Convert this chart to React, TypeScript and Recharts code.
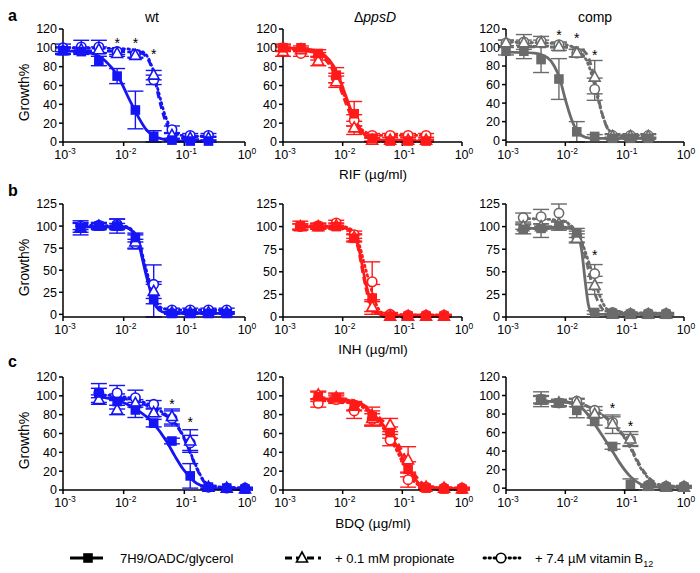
import React from "react";
import { ComposedChart, Line, Scatter, XAxis, YAxis, ErrorBar } from "recharts";

// doses (µg/ml), two-fold dilutions
const RIF_DOSES = [0.001, 0.002, 0.0039, 0.0078, 0.0156, 0.03125, 0.0625, 0.125, 0.25];
const INH_DOSES = [0.00195, 0.0039, 0.0078, 0.0156, 0.03125, 0.0625, 0.125, 0.25, 0.5];
const BDQ_DOSES = [0.0039, 0.0078, 0.0156, 0.03125, 0.0625, 0.125, 0.25, 0.5, 1];

const X_TICKS = [0.001, 0.01, 0.1, 1];
const X_TICK_EXP = ["-3", "-2", "-1", "0"];
const Y_TICKS_120 = [0, 20, 40, 60, 80, 100, 120];
const Y_TICKS_125 = [0, 25, 50, 75, 100, 125];

type Pt = [number, number];

// ---- a: RIF ----
const aWtSq = [97, 96, 86, 70, 34, 6, 2, 1, 1];
const aWtSqErr = [4, 3, 5, 8, 20, 6, 1, 1, 1];
const aWtTri = [97, 98, 98, 94, 92, 71, 7, 4, 4];
const aWtTriErr = [3, 3, 3, 3, 3, 5, 3, 2, 2];
const aWtCirc = [100, 101, 101, 96, 93, 66, 13, 7, 7];
const aWtCircErr = [4, 7, 7, 3, 3, 5, 4, 2, 2];
const aWtSqFit: Pt[] = [[0.001, 97], [0.003, 94], [0.005, 86], [0.008, 70], [0.01, 58], [0.012, 47], [0.0141, 38], [0.018, 25], [0.023, 14], [0.03, 7], [0.044, 3], [0.07, 1], [0.25, 1]];
const aWtTriFit: Pt[] = [[0.001, 97], [0.01, 96], [0.02, 94], [0.025, 88], [0.03, 76], [0.038, 47], [0.049, 22], [0.063, 10], [0.09, 4], [0.25, 2]];
const aWtCircFit: Pt[] = [[0.001, 100], [0.01, 99], [0.02, 96], [0.025, 90], [0.03, 78], [0.038, 52], [0.049, 27], [0.063, 13], [0.09, 7], [0.25, 6]];
const aWtStars: Pt[] = [[0.0078, 107], [0.0156, 107], [0.03125, 96]];

const aKoSq = [100, 100, 94, 71, 30, 4, 1, 1, 1];
const aKoSqErr = [4, 2, 4, 8, 13, 3, 1, 1, 1];
const aKoTri = [96, 98, 86, 64, 15, 2, 2, 2, 2];
const aKoTriErr = [5, 2, 5, 6, 7, 2, 1, 1, 1];
const aKoCirc = [100, 94, 91, 68, 23, 7, 7, 7, 7];
const aKoCircErr = [3, 3, 4, 5, 6, 2, 2, 2, 2];
const aKoSqFit: Pt[] = [[0.001, 100], [0.003, 98], [0.005, 92], [0.007, 81], [0.009, 66], [0.011, 51], [0.014, 33], [0.018, 18], [0.025, 6], [0.04, 2], [0.25, 1]];
const aKoTriFit: Pt[] = [[0.001, 98], [0.003, 96], [0.005, 88], [0.007, 75], [0.009, 58], [0.011, 43], [0.014, 27], [0.018, 13], [0.025, 5], [0.04, 2], [0.25, 2]];
const aKoCircFit: Pt[] = [[0.001, 99], [0.003, 96], [0.005, 90], [0.007, 78], [0.009, 62], [0.011, 47], [0.014, 31], [0.018, 18], [0.025, 10], [0.04, 7], [0.25, 7]];

const aCoSq = [96, 96, 87, 66, 9, 4, 2, 2, 2];
const aCoSqErr = [4, 8, 14, 22, 11, 2, 1, 1, 1];
const aCoTri = [105, 105, 105, 101, 94, 68, 4, 4, 4];
const aCoTriErr = [3, 3, 3, 4, 4, 18, 2, 2, 2];
const aCoCirc = [105, 106, 107, 103, 94, 55, 5, 5, 5];
const aCoCircErr = [3, 8, 5, 3, 4, 12, 2, 2, 2];
const aCoSqFit: Pt[] = [[0.001, 95], [0.003, 94], [0.005, 89], [0.0065, 80], [0.008, 67], [0.01, 44], [0.0128, 22], [0.0165, 8], [0.022, 3], [0.03, 2], [0.25, 2]];
const aCoTriFit: Pt[] = [[0.001, 101], [0.016, 100], [0.02, 97], [0.025, 88], [0.03, 70], [0.035, 50], [0.04, 33], [0.05, 14], [0.06, 7], [0.08, 4], [0.25, 4]];
const aCoCircFit: Pt[] = [[0.001, 106], [0.008, 104], [0.016, 98], [0.02, 92], [0.025, 80], [0.03, 63], [0.035, 46], [0.04, 32], [0.05, 15], [0.06, 8], [0.09, 5], [0.25, 5]];
const aCoStars: Pt[] = [[0.0078, 116], [0.0156, 112], [0.03125, 94]];

// ---- b: INH ----
const bWtSq = [98, 100, 100, 87, 17, 1, 1, 1, 1];
const bWtSqErr = [8, 4, 8, 5, 20, 1, 1, 1, 1];
const bWtTri = [98, 100, 100, 82, 26, 2, 2, 2, 2];
const bWtTriErr = [5, 3, 3, 8, 8, 1, 1, 1, 1];
const bWtCirc = [100, 101, 102, 80, 34, 5, 5, 5, 5];
const bWtCircErr = [4, 3, 6, 5, 22, 2, 2, 2, 2];
const bWtSqFit: Pt[] = [[0.00195, 99], [0.01, 99], [0.013, 96], [0.0155, 89], [0.018, 78], [0.0205, 62], [0.023, 47], [0.026, 33], [0.029, 21], [0.034, 9], [0.043, 3], [0.06, 1], [0.5, 1]];
const bWtTriFit: Pt[] = [[0.00195, 99], [0.01, 99], [0.013, 96], [0.0155, 90], [0.018, 79], [0.0205, 64], [0.023, 50], [0.026, 36], [0.029, 24], [0.034, 11], [0.043, 4], [0.06, 2], [0.5, 2]];
const bWtCircFit: Pt[] = [[0.00195, 101], [0.01, 100], [0.013, 97], [0.0155, 91], [0.018, 81], [0.0205, 67], [0.023, 53], [0.026, 40], [0.029, 28], [0.034, 15], [0.043, 7], [0.06, 5], [0.5, 5]];

const bKoSq = [101, 100, 100, 87, 21, 1, 1, 1, 1];
const bKoSqErr = [5, 3, 3, 4, 15, 1, 1, 1, 1];
const bKoTri = [100, 100, 101, 88, 11, 1, 1, 1, 1];
const bKoTriErr = [3, 3, 3, 4, 8, 1, 1, 1, 1];
const bKoCirc = [100, 101, 104, 91, 39, 3, 2, 2, 2];
const bKoCircErr = [3, 3, 3, 4, 22, 2, 1, 1, 1];
const bKoSqFit: Pt[] = [[0.00195, 100], [0.01, 99], [0.013, 96], [0.016, 88], [0.0185, 77], [0.02, 66], [0.022, 52], [0.0243, 38], [0.027, 26], [0.03, 16], [0.036, 6], [0.05, 2], [0.5, 1]];
const bKoTriFit: Pt[] = [[0.00195, 100], [0.01, 99], [0.013, 96], [0.016, 87], [0.0185, 74], [0.02, 62], [0.022, 47], [0.0243, 33], [0.027, 21], [0.03, 12], [0.036, 4], [0.05, 1], [0.5, 1]];
const bKoCircFit: Pt[] = [[0.00195, 101], [0.01, 100], [0.013, 98], [0.016, 92], [0.0185, 82], [0.02, 75], [0.022, 64], [0.025, 50], [0.028, 38], [0.031, 28], [0.036, 15], [0.045, 5], [0.06, 3], [0.5, 2]];

const bCoSq = [97, 98, 101, 93, 5, 4, 3, 3, 3];
const bCoSqErr = [5, 10, 5, 5, 2, 2, 1, 1, 1];
const bCoTri = [100, 100, 103, 87, 35, 3, 3, 3, 3];
const bCoTriErr = [3, 3, 3, 5, 10, 1, 1, 1, 1];
const bCoCirc = [110, 111, 115, 89, 48, 5, 4, 4, 4];
const bCoCircErr = [5, 8, 10, 6, 10, 2, 1, 1, 1];
const bCoSqFit: Pt[] = [[0.00195, 98], [0.012, 98], [0.0145, 95], [0.0165, 90], [0.019, 72], [0.0214, 42], [0.0244, 14], [0.027, 5], [0.035, 3], [0.5, 3]];
const bCoTriFit: Pt[] = [[0.00195, 100], [0.012, 100], [0.016, 93], [0.019, 82], [0.022, 65], [0.026, 45], [0.03, 30], [0.035, 18], [0.042, 9], [0.055, 4], [0.5, 3]];
const bCoCircFit: Pt[] = [[0.00195, 109], [0.008, 107], [0.013, 100], [0.017, 90], [0.021, 75], [0.025, 60], [0.03, 45], [0.036, 28], [0.045, 13], [0.06, 6], [0.5, 4]];
const bCoStars: Pt[] = [[0.03125, 71]];

// ---- c: BDQ ----
const cWtSq = [103, 94, 85, 71, 52, 15, 3, 2, 1];
const cWtSqErr = [10, 8, 8, 4, 3, 13, 2, 1, 1];
const cWtTri = [96, 85, 92, 82, 78, 52, 3, 2, 1];
const cWtTriErr = [5, 5, 4, 4, 8, 12, 1, 1, 1];
const cWtCirc = [103, 103, 98, 91, 76, 50, 3, 2, 2];
const cWtCircErr = [5, 8, 8, 4, 8, 8, 1, 1, 1];
const cWtSqFit: Pt[] = [[0.0039, 99], [0.008, 95], [0.015, 87], [0.0306, 71], [0.0505, 52], [0.07, 36], [0.096, 22], [0.13, 12], [0.16, 7], [0.235, 3], [0.5, 1], [1, 1]];
const cWtTriFit: Pt[] = [[0.0039, 99], [0.01, 97], [0.02, 92], [0.04, 82], [0.0625, 74], [0.09, 60], [0.11, 48], [0.15, 27], [0.21, 9], [0.3, 3], [1, 1]];
const cWtCircFit: Pt[] = [[0.0039, 101], [0.01, 99], [0.02, 94], [0.04, 84], [0.0625, 75], [0.09, 61], [0.11, 49], [0.15, 28], [0.21, 10], [0.3, 4], [1, 2]];
const cWtStars: Pt[] = [[0.0625, 93], [0.125, 74]];

const cKoSq = [99, 98, 89, 78, 61, 22, 2, 1, 1];
const cKoSqErr = [5, 5, 4, 10, 6, 8, 1, 1, 1];
const cKoTri = [101, 98, 89, 76, 69, 32, 3, 2, 1];
const cKoTriErr = [4, 4, 5, 8, 7, 14, 1, 1, 1];
const cKoCirc = [92, 96, 84, 75, 53, 11, 3, 2, 2];
const cKoCircErr = [4, 4, 8, 6, 6, 8, 1, 1, 1];
const cKoSqFit: Pt[] = [[0.0039, 97], [0.01, 96], [0.02, 91], [0.035, 79], [0.062, 59], [0.085, 44], [0.105, 32], [0.134, 20], [0.197, 6], [0.3, 2], [1, 1]];
const cKoTriFit: Pt[] = [[0.0039, 98], [0.01, 97], [0.02, 92], [0.035, 81], [0.062, 64], [0.085, 49], [0.11, 36], [0.14, 23], [0.2, 9], [0.3, 3], [1, 1]];
const cKoCircFit: Pt[] = [[0.0039, 95], [0.01, 94], [0.02, 89], [0.035, 76], [0.062, 55], [0.085, 39], [0.105, 27], [0.134, 15], [0.19, 5], [0.3, 2], [1, 2]];

const cCoSq = [96, 92, 84, 72, 45, 4, 2, 1, 1];
const cCoSqErr = [8, 4, 8, 4, 3, 6, 1, 1, 1];
const cCoTri = [95, 92, 92, 80, 69, 53, 2, 1, 1];
const cCoTriErr = [4, 3, 4, 4, 10, 8, 1, 1, 1];
const cCoCirc = [96, 92, 94, 84, 71, 52, 3, 2, 2];
const cCoCircErr = [4, 3, 3, 4, 6, 6, 1, 1, 1];
const cCoSqFit: Pt[] = [[0.0039, 94], [0.01, 93], [0.02, 85], [0.0297, 71], [0.049, 50], [0.065, 38], [0.083, 27], [0.123, 13], [0.19, 4], [0.3, 1], [1, 1]];
const cCoTriFit: Pt[] = [[0.0039, 94], [0.01, 93], [0.02, 90], [0.04, 80], [0.07, 67], [0.1, 55], [0.13, 43], [0.18, 25], [0.25, 12], [0.35, 5], [0.5, 2], [1, 1]];
const cCoCircFit: Pt[] = [[0.0039, 94], [0.01, 93], [0.02, 90], [0.04, 80], [0.07, 66], [0.1, 54], [0.13, 41], [0.18, 23], [0.25, 11], [0.35, 4], [1, 1]];
const cCoStars: Pt[] = [[0.0625, 89], [0.125, 69]];

const BLUE = "#1414f5";
const RED = "#ff1a1a";
const GREY = "#6b6b6b";
const FONT = '"Liberation Sans", Arial, Helvetica, sans-serif';

const PLOT_H = 113;
const YW = 40;
const XH = 26;
const MT = 10;
const MR = 14;

const pts = (doses: number[], mean: number[], err: number[]) =>
  doses.map((x, i) => ({ x, y: mean[i], e: err[i] }));
const fit = (f: Pt[]) => f.map(([x, y]) => ({ x, y }));

const LogTick = (props: any) => {
  const { x, y, index } = props;
  return (
    <text x={x + 2} y={y + 11} textAnchor="middle" fontSize={12.5} fill="#000">
      10
      <tspan dy={-5} fontSize={8.5}>{X_TICK_EXP[index]}</tspan>
    </text>
  );
};

const squareShape = (color: string) => (p: any) => (
  <rect x={p.cx - 4.8} y={p.cy - 4.8} width={9.6} height={9.6} fill={color} />
);
const triShape = (color: string) => (p: any) => (
  <polygon
    points={`${p.cx},${p.cy - 6} ${p.cx + 5.5},${p.cy + 4} ${p.cx - 5.5},${p.cy + 4}`}
    fill="#fff"
    stroke={color}
    strokeWidth={1.6}
  />
);
const circShape = (color: string) => (p: any) => (
  <circle cx={p.cx} cy={p.cy} r={4.7} fill="#fff" stroke={color} strokeWidth={1.6} />
);
const starShape = (p: any) => (
  <text x={p.cx} y={p.cy + 7} textAnchor="middle" fontSize={14} fill="#000">*</text>
);

type PanelProps = {
  left: number;
  top: number;
  plotW: number;
  yMax: number;
  yTicks: number[];
  color: string;
  doses: number[];
  sq: number[]; sqErr: number[];
  tri: number[]; triErr: number[];
  circ: number[]; circErr: number[];
  sqFit: Pt[]; triFit: Pt[]; circFit: Pt[];
  stars?: Pt[];
};

function Panel(p: PanelProps) {
  const axisStyle = { stroke: "#000", strokeWidth: 1.5 };
  return (
    <div style={{ position: "absolute", left: p.left - YW, top: p.top - MT }}>
      <ComposedChart
        width={YW + p.plotW + MR}
        height={MT + PLOT_H + XH}
        margin={{ top: MT, right: MR, bottom: 0, left: 0 }}
      >
        <XAxis
          type="number"
          dataKey="x"
          scale="log"
          domain={[0.001, 1]}
          ticks={X_TICKS}
          interval={0}
          tick={<LogTick />}
          tickSize={4}
          axisLine={axisStyle}
          tickLine={axisStyle}
          height={XH}
        />
        <YAxis
          type="number"
          domain={[0, p.yMax]}
          ticks={p.yTicks}
          interval={0}
          width={YW}
          tickSize={4}
          axisLine={axisStyle}
          tickLine={axisStyle}
          tick={{ fill: "#000", fontSize: 12.5 }}
        />
        <Line data={fit(p.circFit)} dataKey="y" type="monotone" stroke={p.color} strokeWidth={2.8}
          strokeDasharray="1.5 3.5" strokeLinecap="round" dot={false} isAnimationActive={false} />
        <Line data={fit(p.triFit)} dataKey="y" type="monotone" stroke={p.color} strokeWidth={2.8}
          strokeDasharray="7 4" dot={false} isAnimationActive={false} />
        <Line data={fit(p.sqFit)} dataKey="y" type="monotone" stroke={p.color} strokeWidth={2.8}
          dot={false} isAnimationActive={false} />
        <Scatter data={pts(p.doses, p.circ, p.circErr)} dataKey="y" shape={circShape(p.color)} isAnimationActive={false}>
          <ErrorBar dataKey="e" direction="y" width={8} stroke={p.color} strokeWidth={1.4} />
        </Scatter>
        <Scatter data={pts(p.doses, p.tri, p.triErr)} dataKey="y" shape={triShape(p.color)} isAnimationActive={false}>
          <ErrorBar dataKey="e" direction="y" width={8} stroke={p.color} strokeWidth={1.4} />
        </Scatter>
        <Scatter data={pts(p.doses, p.sq, p.sqErr)} dataKey="y" shape={squareShape(p.color)} isAnimationActive={false}>
          <ErrorBar dataKey="e" direction="y" width={8} stroke={p.color} strokeWidth={1.4} />
        </Scatter>
        {p.stars && (
          <Scatter data={fit(p.stars)} dataKey="y" shape={starShape} isAnimationActive={false} />
        )}
      </ComposedChart>
    </div>
  );
}

const COL_LEFT = [63, 283, 506];
const COL_W = [182, 179, 178];
const ROW_TOP = [29, 204, 377];

export default function App() {
  const col = (i: number) => ({ left: COL_LEFT[i], plotW: COL_W[i] });
  return (
    <div style={{ position: "absolute", left: 0, top: 0, width: 700, height: 573, background: "#fff", fontFamily: FONT }}>
      {/* row a: RIF */}
      <Panel {...col(0)} top={ROW_TOP[0]} yMax={120} yTicks={Y_TICKS_120} color={BLUE} doses={RIF_DOSES}
        sq={aWtSq} sqErr={aWtSqErr} tri={aWtTri} triErr={aWtTriErr} circ={aWtCirc} circErr={aWtCircErr}
        sqFit={aWtSqFit} triFit={aWtTriFit} circFit={aWtCircFit} stars={aWtStars} />
      <Panel {...col(1)} top={ROW_TOP[0]} yMax={120} yTicks={Y_TICKS_120} color={RED} doses={RIF_DOSES}
        sq={aKoSq} sqErr={aKoSqErr} tri={aKoTri} triErr={aKoTriErr} circ={aKoCirc} circErr={aKoCircErr}
        sqFit={aKoSqFit} triFit={aKoTriFit} circFit={aKoCircFit} />
      <Panel {...col(2)} top={ROW_TOP[0]} yMax={120} yTicks={Y_TICKS_120} color={GREY} doses={RIF_DOSES}
        sq={aCoSq} sqErr={aCoSqErr} tri={aCoTri} triErr={aCoTriErr} circ={aCoCirc} circErr={aCoCircErr}
        sqFit={aCoSqFit} triFit={aCoTriFit} circFit={aCoCircFit} stars={aCoStars} />

      {/* row b: INH */}
      <Panel {...col(0)} top={ROW_TOP[1]} yMax={125} yTicks={Y_TICKS_125} color={BLUE} doses={INH_DOSES}
        sq={bWtSq} sqErr={bWtSqErr} tri={bWtTri} triErr={bWtTriErr} circ={bWtCirc} circErr={bWtCircErr}
        sqFit={bWtSqFit} triFit={bWtTriFit} circFit={bWtCircFit} />
      <Panel {...col(1)} top={ROW_TOP[1]} yMax={125} yTicks={Y_TICKS_125} color={RED} doses={INH_DOSES}
        sq={bKoSq} sqErr={bKoSqErr} tri={bKoTri} triErr={bKoTriErr} circ={bKoCirc} circErr={bKoCircErr}
        sqFit={bKoSqFit} triFit={bKoTriFit} circFit={bKoCircFit} />
      <Panel {...col(2)} top={ROW_TOP[1]} yMax={125} yTicks={Y_TICKS_125} color={GREY} doses={INH_DOSES}
        sq={bCoSq} sqErr={bCoSqErr} tri={bCoTri} triErr={bCoTriErr} circ={bCoCirc} circErr={bCoCircErr}
        sqFit={bCoSqFit} triFit={bCoTriFit} circFit={bCoCircFit} stars={bCoStars} />

      {/* row c: BDQ */}
      <Panel {...col(0)} top={ROW_TOP[2]} yMax={120} yTicks={Y_TICKS_120} color={BLUE} doses={BDQ_DOSES}
        sq={cWtSq} sqErr={cWtSqErr} tri={cWtTri} triErr={cWtTriErr} circ={cWtCirc} circErr={cWtCircErr}
        sqFit={cWtSqFit} triFit={cWtTriFit} circFit={cWtCircFit} stars={cWtStars} />
      <Panel {...col(1)} top={ROW_TOP[2]} yMax={120} yTicks={Y_TICKS_120} color={RED} doses={BDQ_DOSES}
        sq={cKoSq} sqErr={cKoSqErr} tri={cKoTri} triErr={cKoTriErr} circ={cKoCirc} circErr={cKoCircErr}
        sqFit={cKoSqFit} triFit={cKoTriFit} circFit={cKoCircFit} />
      <Panel {...col(2)} top={ROW_TOP[2]} yMax={120} yTicks={Y_TICKS_120} color={GREY} doses={BDQ_DOSES}
        sq={cCoSq} sqErr={cCoSqErr} tri={cCoTri} triErr={cCoTriErr} circ={cCoCirc} circErr={cCoCircErr}
        sqFit={cCoSqFit} triFit={cCoTriFit} circFit={cCoCircFit} stars={cCoStars} />

      {/* labels and legend */}
      <svg width={700} height={573} style={{ position: "absolute", left: 0, top: 0, pointerEvents: "none" }}
        fontFamily={FONT} fill="#000">
        <text x={8} y={21} fontSize={16} fontWeight="bold">a</text>
        <text x={8} y={196} fontSize={16} fontWeight="bold">b</text>
        <text x={8} y={367} fontSize={16} fontWeight="bold">c</text>

        <text x={152} y={22} fontSize={14} textAnchor="middle">wt</text>
        <text x={375} y={22} fontSize={14} textAnchor="middle">
          Δ<tspan fontStyle="italic">ppsD</tspan>
        </text>
        <text x={595} y={22} fontSize={14} textAnchor="middle">comp</text>

        {ROW_TOP.map((t) => (
          <text key={t} x={29} y={t + PLOT_H / 2 + 7} fontSize={14} textAnchor="middle"
            transform={`rotate(-90 29 ${t + PLOT_H / 2 + 7})`}>Growth%</text>
        ))}

        <text x={373} y={179} fontSize={13.5} textAnchor="middle">RIF (µg/ml)</text>
        <text x={373} y={354} fontSize={13.5} textAnchor="middle">INH (µg/ml)</text>
        <text x={373} y={528} fontSize={13.5} textAnchor="middle">BDQ (µg/ml)</text>

        <line x1={70} x2={103} y1={558} y2={558} stroke="#000" strokeWidth={2.8} />
        <rect x={83.2} y={553.2} width={9.6} height={9.6} fill="#000" />
        <text x={120} y={563} fontSize={13}>7H9/OADC/glycerol</text>

        <line x1={285} x2={321} y1={558} y2={558} stroke="#000" strokeWidth={2.8} strokeDasharray="7 4" />
        <polygon points="302,552 307.5,562 296.5,562" fill="#fff" stroke="#000" strokeWidth={1.6} />
        <text x={335} y={563} fontSize={13}>+ 0.1 mM propionate</text>

        <line x1={484} x2={520} y1={558} y2={558} stroke="#000" strokeWidth={2.8} strokeDasharray="1.5 3.5" strokeLinecap="round" />
        <circle cx={501} cy={558} r={4.7} fill="#fff" stroke="#000" strokeWidth={1.6} />
        <text x={535} y={563} fontSize={13}>
          + 7.4 µM vitamin B<tspan dy={4} fontSize={9}>12</tspan>
        </text>
      </svg>
    </div>
  );
}
